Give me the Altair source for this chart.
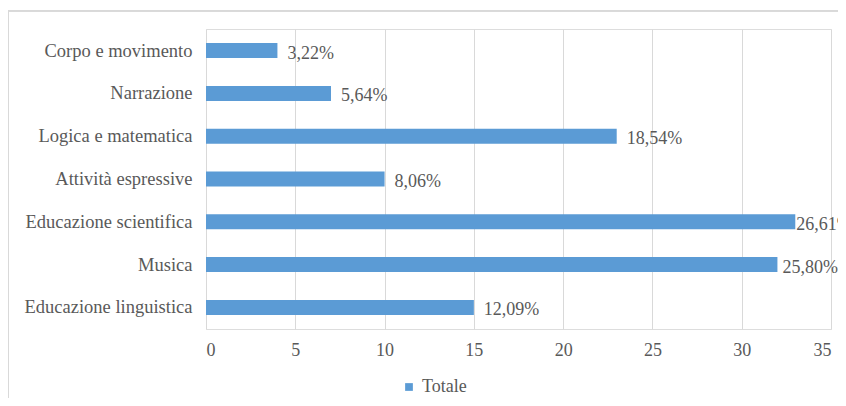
import altair as alt
import pandas as pd

categories = ["Corpo e movimento", "Narrazione", "Logica e matematica",
              "Attività espressive", "Educazione scientifica", "Musica",
              "Educazione linguistica"]
values = [4, 7, 23, 10, 33, 32, 15]
labels = ["3,22%", "5,64%", "18,54%", "8,06%", "26,61%", "25,80%", "12,09%"]
series = ["Totale"] * len(categories)

df = pd.DataFrame({"cat": categories, "val": values, "lab": labels, "serie": series})

FONT = "Liberation Serif"
TXT = "#595959"

y_enc = alt.Y("cat:N", sort=categories, title=None,
              scale=alt.Scale(paddingInner=0.65, paddingOuter=0.33),
              axis=alt.Axis(domain=False, ticks=False, labelPadding=14,
                            labelFontSize=18.5, labelColor=TXT, labelFont=FONT,
                            grid=False))

bars = alt.Chart(df).mark_bar(color="#5B9BD5").encode(
    y=y_enc,
    x=alt.X("val:Q", title=None,
            scale=alt.Scale(domain=[0, 35], nice=False),
            axis=alt.Axis(values=[0, 5, 10, 15, 20, 25, 30, 35], domain=False,
                          ticks=False, labelPadding=12, labelFontSize=18,
                          labelColor=TXT, labelFont=FONT, gridColor="#d9d9d9",
                          gridWidth=1)),
    color=alt.Color("serie:N", scale=alt.Scale(range=["#5B9BD5"]), title=None,
                    legend=alt.Legend(orient="none", legendX=194, legendY=349,
                                      symbolType="square", symbolSize=60,
                                      labelFontSize=18, labelColor=TXT,
                                      labelFont=FONT, symbolStrokeWidth=0)),
)

base_text = alt.Chart(df).encode(
    y=alt.Y("cat:N", sort=categories),
    x="val:Q",
    text="lab:N",
)
edge_cats = ["Educazione scientifica", "Musica"]
text_main = base_text.mark_text(align="left", baseline="middle", dx=10, dy=3,
                                fontSize=18, font=FONT, color=TXT).transform_filter(
    ~alt.FieldOneOfPredicate(field="cat", oneOf=edge_cats))
text_sci = base_text.mark_text(align="left", baseline="middle", dx=1, dy=3,
                               fontSize=18, font=FONT, color=TXT).transform_filter(
    alt.datum.cat == "Educazione scientifica")
text_mus = base_text.mark_text(align="left", baseline="middle", dx=5, dy=3,
                               fontSize=18, font=FONT, color=TXT).transform_filter(
    alt.datum.cat == "Musica")

frame_top = alt.Chart(df).mark_rule(color="#d9d9d9", strokeWidth=1).encode(
    x=alt.value(-198), x2=alt.value(900), y=alt.value(-18))
frame_left = alt.Chart(df).mark_rule(color="#d9d9d9", strokeWidth=1).encode(
    x=alt.value(-197.5), y=alt.value(-18), y2=alt.value(380))

chart = alt.layer(frame_top, frame_left, bars, text_main, text_sci, text_mus).properties(
    width=625, height=300,
    autosize=alt.AutoSizeParams(type="none"),
    padding={"left": 198, "top": 21, "right": 7, "bottom": 69},
).configure_view(stroke=None).configure(background="white")

chart.save("out.html", embed_options={"renderer": "svg", "actions": False})
